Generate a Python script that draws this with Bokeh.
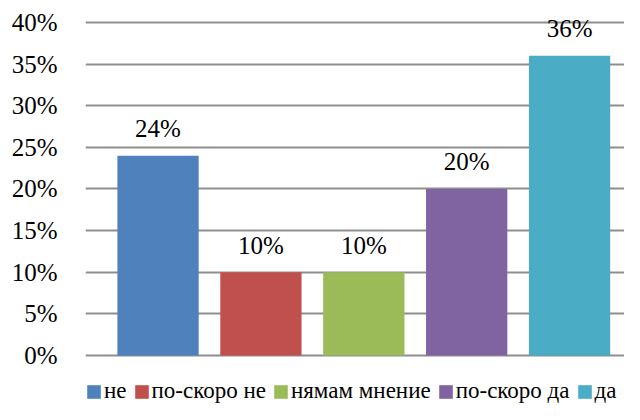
from bokeh.plotting import figure
from bokeh.models import (ColumnDataSource, Range1d, FixedTicker,
                          NumeralTickFormatter, Legend, LegendItem)
from bokeh.core.properties import value, field
from bokeh.embed import file_html
from bokeh.resources import INLINE

categories = ["не", "по-скоро не", "нямам мнение", "по-скоро да", "да"]
percents = [24, 10, 10, 20, 36]
colors = ["#4F81BD", "#C0504D", "#9BBB59", "#8064A2", "#4BACC6"]
y_ticks = [0, 0.05, 0.10, 0.15, 0.20, 0.25, 0.30, 0.35, 0.40]

FONT = "'Liberation Serif', 'Times New Roman', serif"

src = ColumnDataSource(dict(
    idx=list(range(len(categories))),
    cat=categories,
    val=[v / 100 for v in percents],
    lab=[f"{v}%" for v in percents],
    color=colors,
))

p = figure(width=624, height=404, output_backend="svg", toolbar_location=None,
           x_range=Range1d(-0.705, 4.534),
           y_range=Range1d(-0.0589, 0.4216),
           x_axis_location=None,
           min_border_left=85, min_border_right=0, min_border_top=4,
           min_border_bottom=0)

p.outline_line_color = None
p.background_fill_color = "white"
p.border_fill_color = "white"

r = p.vbar(x="idx", top="val", width=0.79, source=src, color="color", line_color=None)

p.text(x="idx", y="val", text="lab", source=src, text_align="center",
       text_baseline="alphabetic", y_offset=-27, text_font=value(FONT),
       text_font_size="25px", text_color="black")

ax = p.yaxis[0]
ax.ticker = FixedTicker(ticks=y_ticks)
ax.formatter = NumeralTickFormatter(format="0%")
ax.axis_line_color = None
ax.major_tick_line_color = None
ax.minor_tick_line_color = None
ax.major_tick_out = 0
ax.major_tick_in = 0
ax.major_label_standoff = 28
ax.major_label_text_font = FONT
ax.major_label_text_font_size = "25px"
ax.major_label_text_color = "black"

p.xgrid.visible = False
p.ygrid.ticker = FixedTicker(ticks=y_ticks)
p.ygrid.grid_line_color = "#8e8e8e"
p.ygrid.grid_line_width = 2

legend = Legend(items=[LegendItem(label=field("cat"), renderers=[r])],
                orientation="horizontal", location=(0, 0),
                glyph_width=17, glyph_height=17, label_standoff=2, spacing=6,
                padding=0, margin=0, border_line_color=None,
                background_fill_alpha=0,
                label_text_font=FONT, label_text_font_size="23px",
                label_text_color="black")
p.add_layout(legend, "center")

open("out.html", "w").write(file_html(p, INLINE))
